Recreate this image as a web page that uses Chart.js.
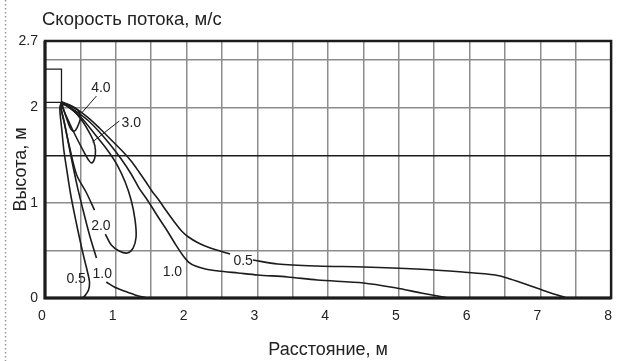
<!DOCTYPE html>
<html>
<head>
<meta charset="utf-8">
<script src="https://cdn.jsdelivr.net/npm/chart.js@4"></script>
<style>
  html, body { margin: 0; padding: 0; background: #fff; }
  canvas { display: block; }
</style>
</head>
<body>
<canvas id="flowChart" width="625" height="361"></canvas>
<script>
// chart texts
const chartTitle = 'Скорость потока, м/с';
const xTitle = 'Расстояние, м';
const yTitle = 'Высота, м';

// axes
const xMin = 0, xMax = 8, xStep = 0.5;
const yMin = 0, yMax = 2.7;
const yTickValues = [0, 0.5, 1, 1.5, 2, 2.5, 2.7];
const yTickLabels = ['0', '', '1', '', '2', '', '2.7'];

// velocity contours, [distance, height]
const contour40 = [[0.238,2.048],[0.266,1.975],[0.308,1.880],[0.350,1.796],[0.392,1.754],[0.434,1.765],
  [0.476,1.828],[0.503,1.901],[0.462,1.975],[0.350,2.027],[0.238,2.059]];

const contour30 = [[0.224,2.038],[0.294,1.922],[0.378,1.786],[0.476,1.639],[0.559,1.523],[0.615,1.450],
  [0.657,1.418],[0.699,1.460],[0.713,1.555],[0.685,1.649],[0.615,1.754],[0.517,1.870],[0.392,1.975],[0.238,2.059]];

const contour20 = [[0.699,0.924],[0.587,1.103],[0.448,1.292],[0.350,1.576],[0.280,1.817],[0.224,2.038],
  [0.350,1.996],[0.517,1.891],[0.713,1.712],[0.881,1.555],[1.021,1.397],[1.133,1.218],[1.217,1.029],
  [1.273,0.819],[1.287,0.641],[1.245,0.525],[1.161,0.473],[1.049,0.494],[0.937,0.557],[0.853,0.672]];

const contour10 = [[0.727,0.420],[0.629,0.662],[0.545,0.903],[0.462,1.155],[0.392,1.397],[0.322,1.660],
  [0.266,1.870],[0.224,2.027],[0.294,2.027],[0.434,1.964],[0.601,1.870],[0.769,1.744],[0.937,1.597],
  [1.077,1.460],[1.217,1.303],[1.329,1.155],[1.427,1.050],[1.510,0.956],[1.608,0.840],[1.720,0.714],
  [1.832,0.578],[1.944,0.452],[2.028,0.378],[2.126,0.336],[2.266,0.305],[2.448,0.284],[2.727,0.263],
  [3.007,0.242],[3.427,0.221],[3.846,0.189],[4.503,0.158],[4.965,0.105],[5.315,0.053],[5.706,0]];

const contour10Floor = [[0.867,0.168],[0.979,0.116],[1.119,0.074],[1.273,0.032],[1.441,0]];

const contour05 = [[0.531,0],[0.573,0.032],[0.615,0.084],[0.629,0.168],[0.601,0.273],[0.559,0.399],
  [0.503,0.578],[0.434,0.819],[0.364,1.082],[0.308,1.345],[0.266,1.555],[0.238,1.765],[0.210,1.975],
  [0.224,2.038],[0.266,2.048],[0.420,1.996],[0.601,1.901],[0.769,1.786],[0.937,1.660],[1.105,1.534],
  [1.217,1.439],[1.329,1.324],[1.427,1.218],[1.510,1.124],[1.608,1.029],[1.706,0.924],[1.818,0.809],
  [1.930,0.704],[2.028,0.641],[2.168,0.578],[2.336,0.525],[2.615,0.462]];

const contour05Tail = [[2.937,0.399],[3.287,0.357],[3.846,0.336],[4.503,0.326],[5.245,0.305],[5.902,0.273],
  [6.364,0.242],[6.573,0.200],[6.825,0.137],[7.105,0.063],[7.371,0]];

// supply outlet and label leaders
const outletBox = [[0,2.405],[0.233,2.405],[0.233,2.055],[0,2.055]];
const leader40 = [[0.727,2.122],[0.517,1.943]];
const leader30 = [[1.049,1.859],[0.671,1.639]];

// contour labels
const labelText = ['4.0', '3.0', '2.0', '1.0', '0.5', '1.0', '0.5'];
const labelX = [0.79, 1.22, 0.79, 0.81, 0.44, 1.80, 2.80];
const labelY = [2.21, 1.84, 0.76, 0.25, 0.20, 0.27, 0.39];

const FONT = '"Liberation Sans", Arial, sans-serif';
const INK = '#1c1c1c';
const GRID = '#8c8c8c';

function pts(arr) {
  return arr.map(p => ({ x: p[0], y: p[1] }));
}

function curve(arr, width, tension) {
  return {
    data: pts(arr),
    showLine: true,
    borderColor: INK,
    borderWidth: width,
    pointRadius: 0,
    fill: false,
    tension: tension
  };
}

// frame, dotted margin line, title and contour labels
const decorations = {
  id: 'decorations',
  afterDraw(chart) {
    const ctx = chart.ctx;
    const a = chart.chartArea;
    const xs = chart.scales.x, ys = chart.scales.y;
    ctx.save();

    ctx.strokeStyle = '#9a9a9a';
    ctx.lineWidth = 1.5;
    ctx.setLineDash([1.5, 2.5]);
    ctx.beginPath();
    ctx.moveTo(5.5, 0);
    ctx.lineTo(5.5, 361);
    ctx.stroke();
    ctx.setLineDash([]);

    ctx.strokeStyle = INK;
    ctx.lineWidth = 2.5;
    ctx.strokeRect(a.left, a.top, a.right - a.left, a.bottom - a.top);
    ctx.lineWidth = 3;
    ctx.beginPath();
    ctx.moveTo(a.left, a.top);
    ctx.lineTo(a.left, a.bottom);
    ctx.lineTo(a.right, a.bottom);
    ctx.stroke();

    ctx.fillStyle = '#222';
    ctx.font = '18.5px ' + FONT;
    ctx.textAlign = 'left';
    ctx.textBaseline = 'alphabetic';
    ctx.fillText(chartTitle, 42, 25);

    ctx.font = '14px ' + FONT;
    ctx.textAlign = 'center';
    ctx.textBaseline = 'middle';
    labelText.forEach((t, i) => {
      ctx.fillText(t, xs.getPixelForValue(labelX[i]), ys.getPixelForValue(labelY[i]));
    });
    ctx.restore();
  }
};

new Chart(document.getElementById('flowChart'), {
  type: 'scatter',
  data: {
    datasets: [
      curve(contour40, 1.6, 0.3),
      curve(contour30, 1.6, 0.3),
      curve(contour20, 1.6, 0.3),
      curve(contour10, 1.6, 0.3),
      curve(contour10Floor, 1.6, 0.3),
      curve(contour05, 1.6, 0.3),
      curve(contour05Tail, 1.6, 0.3),
      curve(outletBox, 1.3, 0),
      curve(leader40, 1, 0),
      curve(leader30, 1, 0)
    ]
  },
  options: {
    responsive: false,
    animation: false,
    devicePixelRatio: 1,
    layout: { padding: { left: 0, top: 41, right: 8, bottom: 0 } },
    plugins: {
      legend: { display: false },
      tooltip: { enabled: false }
    },
    scales: {
      x: {
        type: 'linear',
        min: xMin,
        max: xMax,
        afterFit: s => { s.height = 63; },
        border: { display: false },
        grid: { color: GRID, lineWidth: 1.5, drawTicks: false },
        ticks: {
          stepSize: xStep,
          autoSkip: false,
          maxRotation: 0,
          padding: 10,
          labelOffset: -3,
          color: '#222',
          font: { family: FONT, size: 14 },
          callback: v => Number.isInteger(v) ? String(v) : ''
        },
        title: {
          display: true,
          text: xTitle,
          color: '#222',
          font: { family: FONT, size: 18 },
          padding: { top: 0, bottom: 0 }
        }
      },
      y: {
        type: 'linear',
        min: yMin,
        max: yMax,
        afterFit: s => { s.width = 45; },
        afterBuildTicks: s => { s.ticks = yTickValues.map(v => ({ value: v })); },
        border: { display: false },
        grid: {
          color: c => (c.tick && c.tick.value === 1.5) ? INK : GRID,
          lineWidth: 1.4,
          drawTicks: false
        },
        ticks: {
          padding: 7,
          color: '#222',
          font: { family: FONT, size: 14 },
          callback: (v, i) => yTickLabels[i]
        },
        title: {
          display: true,
          text: yTitle,
          color: '#222',
          font: { family: FONT, size: 18 },
          padding: { top: 10, bottom: 0 }
        }
      }
    }
  },
  plugins: [decorations]
});
</script>
</body>
</html>
